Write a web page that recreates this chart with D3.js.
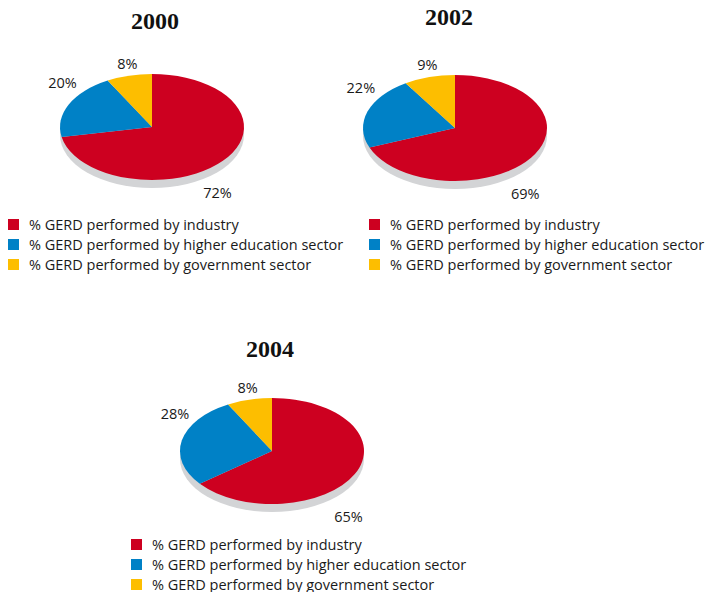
<!DOCTYPE html>
<html>
<head>
<meta charset="utf-8">
<script src="https://cdn.jsdelivr.net/npm/d3@7"></script>
<style>
  body { margin: 0; background: #fff; }
  text { font-family: "Open Sans", "Noto Sans", sans-serif; fill: #1a1a1a; }
  .title { font-family: "Liberation Serif", "DejaVu Serif", serif; font-weight: bold; font-size: 24px; fill: #111; }
</style>
</head>
<body>
<svg id="chart"></svg>
<script>
// data
var years = ["2000", "2002", "2004"];
var categories = [
  "% GERD performed by industry",
  "% GERD performed by higher education sector",
  "% GERD performed by government sector"
];
var industry   = [72, 69, 65];
var higherEd   = [20, 22, 28];
var government = [8, 9, 8];

var colors = ["#cd0020", "#0081c6", "#fdbe00"];

var svg = d3.select("#chart")
    .attr("width", 707)
    .attr("height", 592);

// layout of the three panels (pie centre + legend origin)
var panels = [
  {cx: 152, cy: 127, titleX: 155, titleY: 29,  legX: 8,   legY: 224},
  {cx: 455, cy: 128, titleX: 449, titleY: 25,  legX: 369, legY: 224},
  {cx: 272, cy: 451, titleX: 270, titleY: 357, legX: 131, legY: 544}
];

var rx = 92, ry = 53, depth = 8;

var pie = d3.pie().sort(null).value(function(d) { return d; });
var arc = d3.arc().innerRadius(0).outerRadius(rx);

// label position around the tilted pie
function labelPos(d, p) {
  var a = (d.startAngle + d.endAngle) / 2;
  var s = Math.sin(a), c = Math.cos(a);
  if (c < 0) {
    // front half: sits below the pie's thickness
    return [p.cx + (rx - 7) * s, p.cy + ry + depth + 4];
  }
  return [p.cx + (rx + 7) * s, p.cy - 30 - 35 * c];
}

years.forEach(function(year, i) {
  var p = panels[i];
  var values = [industry[i], higherEd[i], government[i]];
  var g = svg.append("g");

  g.append("text")
      .attr("class", "title")
      .attr("x", p.titleX)
      .attr("y", p.titleY)
      .attr("text-anchor", "middle")
      .text(year);

  // shadow / thickness
  g.append("ellipse")
      .attr("cx", p.cx)
      .attr("cy", p.cy + depth)
      .attr("rx", rx)
      .attr("ry", ry)
      .attr("fill", "#d3d4d6");

  var pg = g.append("g")
      .attr("transform", "translate(" + p.cx + "," + p.cy + ") scale(1," + (ry / rx) + ")");

  var slices = pie(values);

  pg.selectAll("path")
    .data(slices)
    .enter().append("path")
      .attr("d", arc)
      .attr("fill", function(d, j) { return colors[j]; });

  g.selectAll(".lbl")
    .data(slices)
    .enter().append("text")
      .attr("class", "lbl")
      .attr("font-size", "14.5px")
      .attr("text-anchor", "middle")
      .attr("dominant-baseline", "central")
      .attr("x", function(d) { return labelPos(d, p)[0]; })
      .attr("y", function(d) { return labelPos(d, p)[1]; })
      .text(function(d) { return d.value + "%"; });

  var leg = g.selectAll(".leg")
    .data(categories)
    .enter().append("g")
      .attr("class", "leg")
      .attr("transform", function(d, j) { return "translate(" + p.legX + "," + (p.legY + j * 20) + ")"; });

  leg.append("rect")
      .attr("x", 0)
      .attr("y", -5)
      .attr("width", 11)
      .attr("height", 11)
      .attr("fill", function(d, j) { return colors[j]; });

  leg.append("text")
      .attr("x", 21)
      .attr("y", 0)
      .attr("dominant-baseline", "central")
      .attr("font-size", "14.5px")
      .text(function(d) { return d; });
});
</script>
</body>
</html>
